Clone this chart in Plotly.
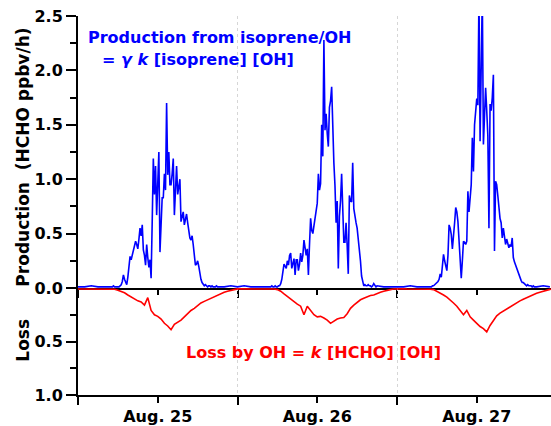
import datetime as dt
import plotly.graph_objects as go

DAYS = ["2010-08-25", "2010-08-26", "2010-08-27"]

# HCHO production from isoprene + OH (ppbv/h), 10-min values 05:00-20:50
prod_25 = [
    0.01, 0.01, 0.02, 0.01, 0.01, 0.01,
    0.01, 0.01, 0.02, 0.03, 0.06, 0.12,
    0.08, 0.05, 0.03, 0.10, 0.18, 0.29,
    0.26, 0.30, 0.33, 0.38, 0.43, 0.40,
    0.36, 0.45, 0.55, 0.48, 0.58, 0.35,
    0.30, 0.21, 0.40, 0.28, 0.19, 0.26,
    0.09, 0.61, 1.19, 0.86, 1.12, 0.67,
    0.95, 1.25, 0.33, 0.55, 0.83, 0.83,
    1.05, 0.90, 1.70, 1.04, 1.25, 0.95,
    0.95, 1.05, 1.19, 0.67, 0.90, 1.12,
    0.86, 0.92, 1.00, 0.61, 0.66, 0.70,
    0.58, 0.62, 0.68, 0.60, 0.52, 0.46,
    0.44, 0.48, 0.40, 0.30, 0.21, 0.22,
    0.25, 0.20, 0.12, 0.08, 0.05, 0.03,
    0.02, 0.03, 0.02, 0.01, 0.02, 0.02,
    0.01, 0.02, 0.01, 0.01, 0.01, 0.02,
]
prod_26 = [
    0.01, 0.02, 0.01, 0.01, 0.02, 0.01,
    0.01, 0.02, 0.02, 0.04, 0.08, 0.15,
    0.22, 0.20, 0.18, 0.25, 0.21, 0.30,
    0.32, 0.18, 0.24, 0.27, 0.12, 0.26,
    0.26, 0.16, 0.22, 0.32, 0.24, 0.30,
    0.44, 0.34, 0.30, 0.36, 0.12, 0.40,
    0.64, 0.53, 0.50, 0.57, 0.63, 0.70,
    0.78, 1.05, 0.90, 0.96, 1.50, 1.21,
    2.28, 1.45, 1.60, 1.42, 1.30, 1.66,
    1.72, 1.85, 1.40, 1.15, 0.94, 0.60,
    0.80, 0.18, 0.66, 0.80, 1.05, 0.69,
    0.42, 0.42, 0.60, 0.39, 0.13, 0.85,
    0.80, 0.79, 1.15, 0.73, 0.65, 0.60,
    0.55, 0.45, 0.39, 0.25, 0.11, 0.05,
    0.02, 0.03, 0.02, 0.02, 0.03, 0.02,
    0.02, 0.01, 0.02, 0.04, 0.02, 0.01,
]
prod_27 = [
    0.01, 0.01, 0.02, 0.02, 0.03, 0.04,
    0.05, 0.06, 0.08, 0.13, 0.10, 0.20,
    0.31, 0.25, 0.19, 0.16, 0.30, 0.58,
    0.55, 0.49, 0.36, 0.45, 0.60, 0.74,
    0.70, 0.61, 0.45, 0.34, 0.09, 0.25,
    0.43, 0.42, 0.40, 0.43, 0.89, 0.70,
    0.80, 0.95, 1.38, 1.07, 1.50, 1.60,
    1.74, 1.68, 2.70, 1.35, 2.20, 2.70,
    1.32, 1.60, 1.84, 1.63, 1.40, 0.55,
    1.69, 1.63, 1.75, 1.96, 0.34, 0.98,
    0.95, 0.85, 0.70, 0.64, 0.60, 0.46,
    0.55, 0.45, 0.40, 0.45, 0.42, 0.37,
    0.40, 0.38, 0.46, 0.28, 0.24, 0.21,
    0.19, 0.14, 0.11, 0.09, 0.07, 0.05,
    0.05, 0.04, 0.03, 0.02, 0.03, 0.02,
    0.02, 0.02, 0.01, 0.02, 0.01, 0.01,
]

# hourly night-time production (00-04 h and 21-23 h)
night_hours = [0, 1, 2, 3, 4, 21, 22, 23]
prod_night_25 = [0.01, 0.01, 0.02, 0.01, 0.01, 0.01, 0.01, 0.02]
prod_night_26 = [0.01, 0.02, 0.01, 0.01, 0.01, 0.02, 0.01, 0.01]
prod_night_27 = [0.01, 0.01, 0.02, 0.01, 0.01, 0.01, 0.02, 0.01]

# HCHO loss by OH (ppbv/h), 30-min values 00:00-23:30
loss_25 = [
    0.010, 0.010, 0.012, 0.010, 0.010, 0.012, 0.010, 0.010,
    0.012, 0.010, 0.012, 0.012, 0.020, 0.030, 0.045, 0.065,
    0.085, 0.100, 0.120, 0.130, 0.160, 0.090, 0.210, 0.250,
    0.265, 0.290, 0.330, 0.355, 0.390, 0.340, 0.320, 0.300,
    0.270, 0.240, 0.210, 0.190, 0.165, 0.140, 0.125, 0.110,
    0.095, 0.080, 0.065, 0.050, 0.040, 0.030, 0.020, 0.015,
]
loss_26 = [
    0.008, 0.008, 0.010, 0.008, 0.008, 0.010, 0.008, 0.008,
    0.010, 0.008, 0.010, 0.010, 0.015, 0.030, 0.055, 0.080,
    0.105, 0.130, 0.150, 0.170, 0.250, 0.170, 0.210, 0.250,
    0.270, 0.265, 0.280, 0.300, 0.330, 0.310, 0.290, 0.280,
    0.275, 0.240, 0.190, 0.160, 0.135, 0.110, 0.095, 0.080,
    0.070, 0.065, 0.050, 0.040, 0.030, 0.020, 0.015, 0.010,
]
loss_27 = [
    0.008, 0.010, 0.008, 0.010, 0.010, 0.008, 0.010, 0.010,
    0.010, 0.010, 0.012, 0.015, 0.030, 0.045, 0.065, 0.085,
    0.110, 0.140, 0.170, 0.210, 0.250, 0.210, 0.270, 0.300,
    0.330, 0.360, 0.380, 0.410, 0.350, 0.300, 0.260, 0.235,
    0.215, 0.200, 0.180, 0.155, 0.135, 0.120, 0.105, 0.090,
    0.080, 0.065, 0.050, 0.040, 0.030, 0.020, 0.013, 0.010,
]

prod_step_hours = [5 + i / 6 for i in range(96)]
loss_step_hours = [i / 2 for i in range(48)]

BLUE = "#0000ff"
RED = "#ff0000"
FONT = "DejaVu Sans"


def stamp(day, hours):
    base = dt.datetime.fromisoformat(day)
    return [base + dt.timedelta(hours=h) for h in hours]


prod_x, prod_y = [], []
for day, d_vals, n_vals in zip(DAYS, [prod_25, prod_26, prod_27],
                               [prod_night_25, prod_night_26, prod_night_27]):
    hrs = night_hours[:5] + prod_step_hours + night_hours[5:]
    vals = n_vals[:5] + d_vals + n_vals[5:]
    prod_x += stamp(day, hrs)
    prod_y += vals

loss_x, loss_y = [], []
for day, vals in zip(DAYS, [loss_25, loss_26, loss_27]):
    loss_x += stamp(day, loss_step_hours)
    loss_y += vals

x_start = dt.datetime(2010, 8, 25)
x_end = x_start + dt.timedelta(hours=71.17)
noons = [dt.datetime.fromisoformat(d) + dt.timedelta(hours=12) for d in DAYS]
midnights = [dt.datetime.fromisoformat(d) for d in DAYS]
day_labels = ["Aug. 25", "Aug. 26", "Aug. 27"]

fig = go.Figure()
fig.add_trace(go.Scatter(x=prod_x, y=prod_y, mode="lines",
                         line=dict(color=BLUE, width=1.6),
                         xaxis="x", yaxis="y"))
fig.add_trace(go.Scatter(x=loss_x, y=loss_y, mode="lines",
                         line=dict(color=RED, width=1.6),
                         xaxis="x2", yaxis="y2"))

split = 107 / 379
tickfont = dict(family=FONT, size=16, color="black", weight="bold")

x_common = dict(
    type="date", range=[x_start, x_end], showline=True, linecolor="black",
    linewidth=2, tickmode="array", tickvals=noons, tickwidth=2,
    tickcolor="black", zeroline=False, showgrid=False,
)
minor_mid = dict(tickmode="array", tickvals=midnights, ticklen=8,
                 tickwidth=2, tickcolor="black", showgrid=True,
                 griddash="dot", gridcolor="#d6d6d6", gridwidth=1)

fig.update_layout(
    width=551, height=426,
    margin=dict(l=78, r=0, t=16, b=31),
    plot_bgcolor="white", paper_bgcolor="white",
    showlegend=False,
    font=dict(family=FONT, size=16, color="black", weight="bold"),
    xaxis=dict(**x_common, anchor="y", ticks="outside", ticklen=5,
               showticklabels=False, minor=dict(**minor_mid, ticks="outside")),
    xaxis2=dict(**x_common, anchor="y2", matches="x", ticks="outside",
                ticklen=6, ticktext=day_labels, tickfont=tickfont,
                minor=dict(**minor_mid, ticks="outside")),
    xaxis3=dict(**x_common, anchor="y", overlaying="x", side="top",
                ticks="inside", ticklen=5, showticklabels=False,
                minor=dict(**{**minor_mid, "showgrid": False}, ticks="inside")),
    yaxis=dict(domain=[split, 1], range=[0, 2.5], anchor="x",
               tickmode="array", tickvals=[0, 0.5, 1.0, 1.5, 2.0, 2.5],
               ticktext=["0.0", "0.5", "1.0", "1.5", "2.0", "2.5"],
               ticks="outside", ticklen=10, tickwidth=2, tickcolor="black",
               minor=dict(tickmode="array", tickvals=[0.25, 0.75, 1.25, 1.75, 2.25],
                          ticks="outside", ticklen=6, tickwidth=2, tickcolor="black"),
               showline=True, linecolor="black", linewidth=2,
               showgrid=False, zeroline=False, tickfont=tickfont),
    yaxis2=dict(domain=[0, split], range=[1.0, 0.0], anchor="x2",
                tickmode="array", tickvals=[0, 0.5, 1.0],
                ticktext=["", "0.5", "1.0"],
                ticks="outside", ticklen=10, tickwidth=2, tickcolor="black",
                minor=dict(tickmode="array", tickvals=[0.25, 0.75],
                           ticks="outside", ticklen=6, tickwidth=2, tickcolor="black"),
                showline=True, linecolor="black", linewidth=2,
                showgrid=False, zeroline=False, tickfont=tickfont),
    yaxis3=dict(overlaying="y", anchor="x", side="right", range=[0, 2.5],
                tickmode="array", tickvals=[0.5, 1.0, 1.5, 2.0],
                ticks="inside", ticklen=6, tickwidth=2, tickcolor="black",
                minor=dict(tickmode="array", tickvals=[0.25, 0.75, 1.25, 1.75, 2.25],
                           ticks="inside", ticklen=3, tickwidth=2, tickcolor="black"),
                showline=False, showticklabels=False, showgrid=False, zeroline=False),
    yaxis4=dict(overlaying="y2", anchor="x2", side="right", range=[1.0, 0.0],
                tickmode="array", tickvals=[0.5],
                ticks="inside", ticklen=6, tickwidth=2, tickcolor="black",
                minor=dict(tickmode="array", tickvals=[0.25, 0.75],
                           ticks="inside", ticklen=3, tickwidth=2, tickcolor="black"),
                showline=False, showticklabels=False, showgrid=False, zeroline=False),
)

title_font = dict(family=FONT, size=17, color="black", weight="bold")
# vertical axis titles
fig.add_annotation(text="Production  (HCHO ppbv/h)", textangle=-90,
                   xref="paper", yref="paper", x=-0.117, y=0.628,
                   xanchor="center", yanchor="middle", showarrow=False,
                   font=title_font)
fig.add_annotation(text="Loss", textangle=-90,
                   xref="paper", yref="paper", x=-0.117, y=0.145,
                   xanchor="center", yanchor="middle", showarrow=False,
                   font=title_font)

fig.add_annotation(text="Production from isoprene/OH", xref="paper", yref="paper",
                   x=0.0169, y=0.942, xanchor="left", yanchor="middle",
                   showarrow=False,
                   font=dict(family=FONT, size=16, color=BLUE, weight="bold"))
fig.add_annotation(text="= <i>γ</i> <i>k</i> [isoprene] [OH]", xref="paper", yref="paper",
                   x=0.0465, y=0.884, xanchor="left", yanchor="middle",
                   showarrow=False,
                   font=dict(family=FONT, size=16, color=BLUE, weight="bold"))
fig.add_annotation(text="Loss by OH = <i>k</i> [HCHO] [OH]", xref="paper", yref="paper",
                   x=0.224, y=0.111, xanchor="left", yanchor="middle",
                   showarrow=False,
                   font=dict(family=FONT, size=16, color=RED, weight="bold"))

fig.write_html("out.html")
